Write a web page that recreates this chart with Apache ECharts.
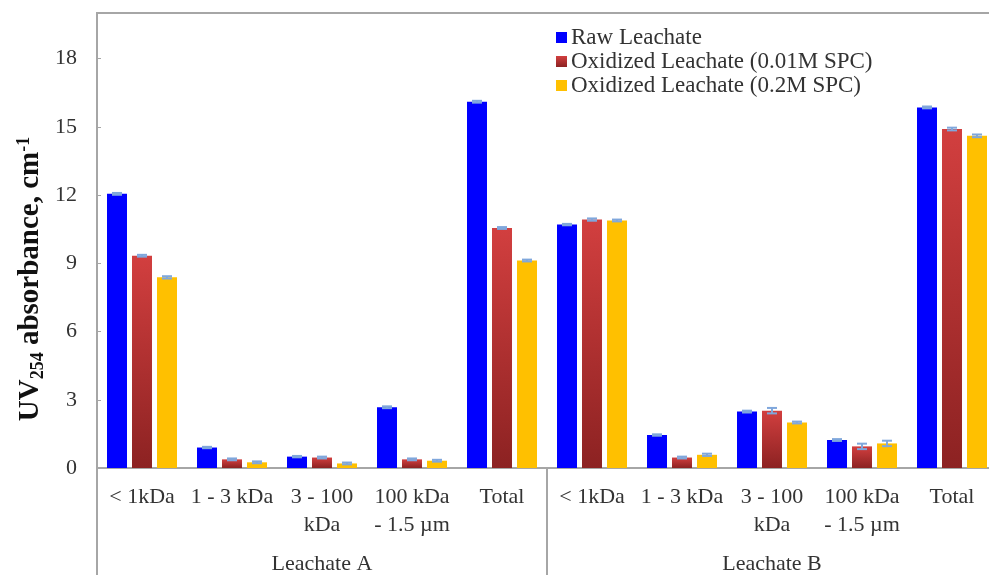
<!DOCTYPE html>
<html>
<head>
<meta charset="utf-8">
<script src="https://cdn.jsdelivr.net/npm/echarts@6/dist/echarts.min.js"></script>
<style>
  html, body { margin: 0; padding: 0; background: #fff; overflow: hidden; }
  #chart { width: 997px; height: 575px; }
</style>
</head>
<body>
<div id="chart"></div>
<script>
// Size fractions measured in each leachate
const fractions = ['< 1kDa', '1 - 3 kDa', '3 - 100\nkDa', '100 kDa\n- 1.5 µm', 'Total'];
const groups = ['Leachate A', 'Leachate B'];
const categories = fractions.concat(fractions);

// UV254 absorbance (cm-1): Leachate A fractions, then Leachate B fractions
const rawLeachate   = [12.05, 0.90, 0.50, 2.67, 16.10, 10.70, 1.45, 2.48, 1.23, 15.85];
const oxidized001M  = [9.33, 0.38, 0.46, 0.38, 10.55, 10.92, 0.46, 2.52, 0.95, 14.90];
const oxidized02M   = [8.38, 0.25, 0.20, 0.32, 9.12, 10.88, 0.58, 2.00, 1.08, 14.60];

// Standard deviations shown as error bars
const rawErr  = [0.04, 0.03, 0.03, 0.04, 0.04, 0.03, 0.03, 0.04, 0.04, 0.04];
const o001Err = [0.04, 0.04, 0.04, 0.04, 0.04, 0.05, 0.04, 0.12, 0.12, 0.06];
const o02Err  = [0.05, 0.04, 0.04, 0.04, 0.04, 0.04, 0.05, 0.04, 0.12, 0.06];

const yTicks = { min: 0, max: 20, interval: 3 };

const FONT = "'Liberation Serif', 'Times New Roman', serif";
const TEXT = '#333333';
const AXIS = '#a6a6a6';
const BAR_W = 20;
const OFFSETS = [-25, 0, 25];

function errorSeries(values, errs, offset) {
  return {
    type: 'custom',
    silent: true,
    z: 5,
    data: values.map((v, i) => [i, v, errs[i]]),
    renderItem: function (params, api) {
      const i = api.value(0), v = api.value(1), e = api.value(2);
      const hi = api.coord([i, v + e]);
      const lo = api.coord([i, v - e]);
      const x = hi[0] + offset;
      const half = 5;
      const style = { stroke: '#7fa7dc', lineWidth: 2 };
      return {
        type: 'group',
        children: [
          { type: 'line', shape: { x1: x, y1: hi[1], x2: x, y2: lo[1] }, style: style },
          { type: 'line', shape: { x1: x - half, y1: hi[1], x2: x + half, y2: hi[1] }, style: style },
          { type: 'line', shape: { x1: x - half, y1: lo[1], x2: x + half, y2: lo[1] }, style: style }
        ]
      };
    }
  };
}

const chart = echarts.init(document.getElementById('chart'), null, { renderer: 'canvas' });

chart.setOption({
  backgroundColor: '#ffffff',
  animation: false,
  textStyle: { fontFamily: FONT },
  grid: {
    left: 97, right: 0, top: 13, bottom: 107,
    show: true, borderColor: AXIS, borderWidth: 2, backgroundColor: 'transparent'
  },
  legend: {
    orient: 'vertical',
    left: 551, top: 21,
    itemWidth: 11, itemHeight: 11, itemGap: 1,
    icon: 'rect',
    textStyle: { fontFamily: FONT, fontSize: 23, color: TEXT, padding: [0, 0, 0, -1] },
    data: ['Raw Leachate', 'Oxidized Leachate (0.01M SPC)', 'Oxidized Leachate (0.2M SPC)']
  },
  xAxis: [
    {
      type: 'category',
      data: categories,
      axisLine: { lineStyle: { color: AXIS, width: 2 } },
      axisTick: { show: false },
      axisLabel: {
        interval: 0, margin: 15,
        fontFamily: FONT, fontSize: 22, lineHeight: 28, color: TEXT
      }
    },
    {
      type: 'category',
      position: 'bottom',
      data: groups,
      axisLine: { show: false },
      axisTick: { show: true, length: 110, lineStyle: { color: AXIS, width: 2 } },
      axisLabel: { margin: 85, fontFamily: FONT, fontSize: 22, color: TEXT }
    }
  ],
  yAxis: {
    type: 'value',
    min: yTicks.min, max: yTicks.max, interval: yTicks.interval,
    axisLine: { show: true, lineStyle: { color: AXIS, width: 2 } },
    axisTick: { show: true, inside: true, length: 4, lineStyle: { color: AXIS } },
    splitLine: { show: false },
    axisLabel: {
      margin: 20, fontFamily: FONT, fontSize: 22, color: TEXT,
      formatter: v => (v % yTicks.interval === 0 ? String(v) : '')
    }
  },
  graphic: [{
    type: 'text',
    x: 31, y: 279,
    rotation: Math.PI / 2,
    style: {
      text: '{b|UV}{s|254}{b| absorbance, cm}{p|-1}',
      align: 'center', verticalAlign: 'middle',
      rich: {
        b: { fontFamily: FONT, fontSize: 29, fontWeight: 'bold', fill: '#111', lineHeight: 32, verticalAlign: 'middle' },
        s: { fontFamily: FONT, fontSize: 18, fontWeight: 'bold', fill: '#111', lineHeight: 32, verticalAlign: 'bottom', padding: [14, 0, 0, 0] },
        p: { fontFamily: FONT, fontSize: 18, fontWeight: 'bold', fill: '#111', lineHeight: 32, verticalAlign: 'top', padding: [0, 0, 14, 0] }
      }
    }
  }],
  series: [
    {
      name: 'Raw Leachate', type: 'bar', barWidth: BAR_W, barGap: '25%',
      itemStyle: { color: '#0000ff' },
      data: rawLeachate
    },
    {
      name: 'Oxidized Leachate (0.01M SPC)', type: 'bar', barWidth: BAR_W, barGap: '25%',
      itemStyle: {
        color: new echarts.graphic.LinearGradient(0, 0, 0, 1, [
          { offset: 0, color: '#d23f3f' },
          { offset: 1, color: '#8c2222' }
        ])
      },
      data: oxidized001M
    },
    {
      name: 'Oxidized Leachate (0.2M SPC)', type: 'bar', barWidth: BAR_W, barGap: '25%',
      itemStyle: { color: '#ffc000' },
      data: oxidized02M
    },
    errorSeries(rawLeachate, rawErr, OFFSETS[0]),
    errorSeries(oxidized001M, o001Err, OFFSETS[1]),
    errorSeries(oxidized02M, o02Err, OFFSETS[2])
  ]
});
</script>
</body>
</html>
